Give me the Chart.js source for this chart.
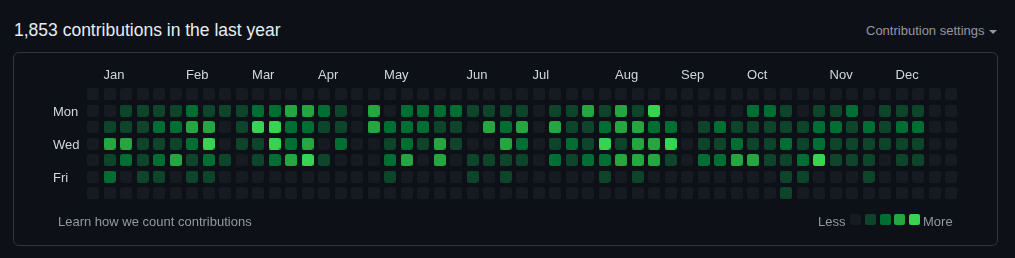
<!DOCTYPE html>
<html>
<head>
<meta charset="utf-8">
<script src="https://cdn.jsdelivr.net/npm/chart.js@4.4.1/dist/chart.umd.min.js"></script>
<style>
  html, body { margin: 0; padding: 0; background: #0d1117; }
  body { width: 1015px; height: 258px; position: relative; overflow: hidden; font-family: "Liberation Sans", Arial, sans-serif; }
  .title { position: absolute; left: 14px; top: 20px; font-size: 17.5px; line-height: 20px; color: #e6edf3; white-space: nowrap; }
  .settings { position: absolute; left: 866px; top: 23px; font-size: 13px; line-height: 16px; color: #9198a1; white-space: nowrap; }
  .caret { display: inline-block; width: 0; height: 0; border-left: 4px solid transparent; border-right: 4px solid transparent; border-top: 4px solid #9198a1; margin-left: 4px; vertical-align: middle; }
  .box { position: absolute; left: 13px; top: 52px; width: 983px; height: 192px; border: 1px solid #30363d; border-radius: 6px; box-sizing: content-box; }
  #wrap { position: absolute; left: 0; top: 0; width: 1015px; height: 258px; }
  .foot { position: absolute; top: 214px; font-size: 13px; line-height: 16px; color: #9198a1; white-space: nowrap; }
  .sq { position: absolute; top: 214px; width: 11px; height: 11px; border-radius: 2px; }
</style>
</head>
<body>
<div class="title">1,853 contributions in the last year</div>
<div class="settings">Contribution settings<span class="caret"></span></div>
<div class="box"></div>
<div id="wrap"><canvas id="graph"></canvas></div>
<div class="foot" style="left:58px">Learn how we count contributions</div>
<div class="foot" style="left:818px">Less</div>
<div class="foot" style="left:923px">More</div>
<div id="legend"></div>
<script>
const weekdays = ["Sun", "Mon", "Tue", "Wed", "Thu", "Fri", "Sat"];
const dayLabelRows = [1, 3, 5];
const months = ["Jan", "Feb", "Mar", "Apr", "May", "Jun", "Jul", "Aug", "Sep", "Oct", "Nov", "Dec"];
const monthStartWeek = [1, 6, 10, 14, 18, 23, 27, 32, 36, 40, 45, 49];
const levelColors = ["#161b22", "#0e4429", "#006d32", "#26a641", "#39d353"];

// contribution level (0-4) per week, one array per weekday
const sun = [0,0,0,0,0,0,0,0,0,0, 0,0,0,0,0,0,0,0,0,0, 0,0,0,0,0,0,0,0,0,0, 0,0,0,0,0,0,0,0,0,0, 0,0,0,0,0,0,0,0,0,0, 0,0,0];
const mon = [0,0,1,1,1,1,2,1,1,1, 2,2,3,3,2,1,0,3,0,2, 2,2,2,1,1,1,1,0,1,1, 3,1,3,1,4,0,0,0,0,0, 2,2,1,0,1,1,2,0,1,1, 1,0,0];
const tue = [0,1,1,1,2,2,3,3,0,1, 4,4,2,2,1,1,0,3,2,2, 2,1,1,0,3,2,3,0,3,1, 1,2,3,3,2,2,0,1,2,1, 1,1,1,1,2,2,1,2,1,2, 2,0,0];
const wed = [0,3,3,1,1,1,2,4,0,1, 1,4,2,3,0,2,0,0,1,2, 1,3,1,0,0,3,2,0,1,2, 1,4,1,3,3,4,0,1,1,2, 1,1,2,1,2,1,1,1,1,1, 1,0,0];
const thu = [0,1,2,1,2,3,1,2,1,0, 1,2,3,4,1,0,0,0,2,3, 0,3,0,1,1,1,1,0,2,1, 2,2,3,3,3,1,0,2,2,3, 3,1,1,2,4,1,1,1,0,1, 1,0,0];
const fri = [0,2,0,1,1,0,1,1,0,0, 0,0,0,0,0,0,0,0,1,0, 0,0,0,1,0,1,0,0,0,0, 0,1,0,1,0,0,0,0,0,0, 0,0,1,1,0,0,0,1,0,0, 0,0,0];
const sat = [0,0,0,0,0,0,0,0,0,0, 0,0,0,0,0,0,0,0,0,0, 0,0,0,0,0,0,0,0,0,0, 0,0,0,0,0,0,0,0,0,0, 0,0,1,0,0,0,0,0,0,0, 0,0,0];
const rows = [sun, mon, tue, wed, thu, fri, sat];

// small rounded squares used as point styles
function cellImage(color) {
  const c = document.createElement("canvas");
  c.width = 12; c.height = 12;
  const g = c.getContext("2d");
  g.fillStyle = color;
  g.beginPath();
  g.roundRect(0, 0, 12, 12, 2.5);
  g.fill();
  return c;
}
const cellImages = levelColors.map(cellImage);

const points = [];
rows.forEach((row, day) => {
  row.forEach((v, week) => points.push({ x: week, y: day, v }));
});

// legend squares
const legend = document.getElementById("legend");
levelColors.forEach((col, i) => {
  const s = document.createElement("div");
  s.className = "sq";
  s.style.left = (850 + i * 14.75) + "px";
  s.style.background = col;
  legend.appendChild(s);
});

const labelFont = { family: "'Liberation Sans', Arial, sans-serif", size: 13 };

new Chart(document.getElementById("graph"), {
  type: "scatter",
  data: {
    datasets: [{
      data: points,
      pointStyle: (ctx) => cellImages[ctx.raw ? ctx.raw.v : 0],
      pointRadius: 6,
      pointHoverRadius: 6,
    }],
  },
  options: {
    responsive: true,
    maintainAspectRatio: false,
    animation: false,
    devicePixelRatio: 1,
    events: [],
    layout: { padding: { left: 53, top: 60, right: 55.75, bottom: 56.75 } },
    plugins: { legend: { display: false }, tooltip: { enabled: false } },
    scales: {
      x: {
        type: "linear",
        position: "top",
        min: -0.5,
        max: 52.5,
        grid: { display: false, drawTicks: false },
        border: { display: false },
        afterBuildTicks: (s) => { s.ticks = monthStartWeek.map((w) => ({ value: w - 0.36 })); },
        afterFit: (s) => { s.height = 25.75; },
        ticks: {
          autoSkip: false,
          maxRotation: 0,
          align: "start",
          padding: 2.5,
          color: "#d1d7e0",
          font: labelFont,
          callback: (v, i) => months[i],
        },
      },
      y: {
        type: "linear",
        position: "left",
        reverse: true,
        min: -0.5,
        max: 6.5,
        grid: { display: false, drawTicks: false },
        border: { display: false },
        afterBuildTicks: (s) => { s.ticks = dayLabelRows.map((r) => ({ value: r })); },
        afterFit: (s) => { s.width = 31.75; },
        ticks: {
          autoSkip: false,
          crossAlign: "far",
          labelOffset: 1.5,
          color: "#d1d7e0",
          font: labelFont,
          callback: (v) => weekdays[v],
        },
      },
    },
  },
});
</script>
</body>
</html>
